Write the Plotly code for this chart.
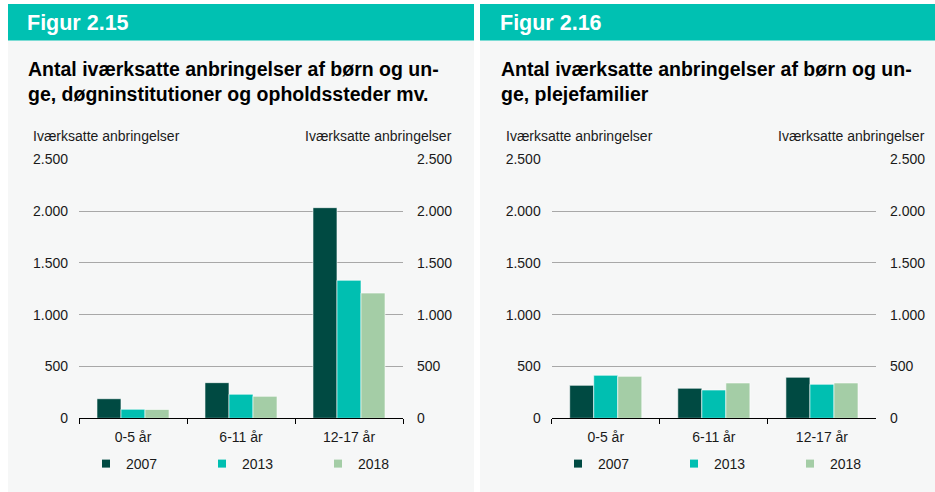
import plotly.graph_objects as go

# Data
categories = ["0-5 år", "6-11 år", "12-17 år"]
years = ["2007", "2013", "2018"]
dogn_values = {
    "2007": [189, 344, 2033],
    "2013": [87, 232, 1332],
    "2018": [85, 212, 1209],
}
pleje_values = {
    "2007": [318, 290, 396],
    "2013": [415, 273, 328],
    "2018": [405, 341, 341],
}
tick_vals = [0, 500, 1000, 1500, 2000, 2500]
tick_text = ["0", "500", "1.000", "1.500", "2.000", "2.500"]

fig_labels = ["Figur 2.15", "Figur 2.16"]
titles = [
    ["Antal iværksatte anbringelser af børn og un-",
     "ge, døgninstitutioner og opholdssteder mv."],
    ["Antal iværksatte anbringelser af børn og un-",
     "ge, plejefamilier"],
]
axis_title = "Iværksatte anbringelser"

colors = {"2007": "#004A42", "2013": "#00BFB1", "2018": "#A4CDA6"}
TEAL = "#00C1B2"
PANEL_BG = "#F6F7F7"
FONT = "Liberation Sans, Arial, sans-serif"
TXT = "#1a1a1a"

W, H = 935, 492


def px_x(x):
    return x / W


def px_y(y):
    return 1 - y / H


fig = go.Figure()

# bars
for panel, values in enumerate([dogn_values, pleje_values]):
    xa = "x" if panel == 0 else "x2"
    ya = "y" if panel == 0 else "y2"
    for yr in years:
        fig.add_trace(go.Bar(
            x=categories, y=values[yr], name=yr,
            marker=dict(color=colors[yr], line=dict(color="white", width=0.6)),
            xaxis=xa, yaxis=ya, showlegend=False,
        ))
        # legend entry with a small square symbol
        fig.add_trace(go.Scatter(
            x=[None], y=[None], mode="markers", name=yr,
            marker=dict(symbol="square", size=8, color=colors[yr]),
            xaxis=xa, yaxis=ya, legend="legend" if panel == 0 else "legend2",
        ))

# empty traces so the right-hand y axes get drawn
fig.add_trace(go.Scatter(x=[None], y=[None], xaxis="x", yaxis="y3", showlegend=False))
fig.add_trace(go.Scatter(x=[None], y=[None], xaxis="x2", yaxis="y4", showlegend=False))

yax_common = dict(
    range=[0, 2500], tickvals=tick_vals, ticktext=tick_text,
    showgrid=True, gridcolor="#A8A8A8", gridwidth=1, zeroline=False,
    ticks="", tickfont=dict(size=14, color=TXT, family=FONT),
    layer="below traces", fixedrange=True,
)
xax_common = dict(
    showline=True, linecolor="black", linewidth=1,
    ticks="outside", tickson="boundaries", ticklen=5, tickcolor="black",
    ticklabelstandoff=6,
    tickfont=dict(size=14, color=TXT, family=FONT),
    showgrid=False, fixedrange=True,
)

legend_common = dict(
    orientation="h", xanchor="left", yanchor="middle",
    entrywidth=71, entrywidthmode="pixels", itemwidth=30,
    font=dict(size=14, family=FONT, color=TXT), bgcolor="rgba(0,0,0,0)",
)

y_dom = [px_y(418.3), px_y(159.3)]
fig.update_layout(
    width=W, height=H,
    margin=dict(l=0, r=0, t=0, b=0, autoexpand=False),
    paper_bgcolor=PANEL_BG, plot_bgcolor="rgba(0,0,0,0)",
    font=dict(family=FONT, color=TXT),
    barmode="group", bargap=0.333, bargroupgap=0,
    xaxis=dict(domain=[px_x(79), px_x(403)], anchor="y", **xax_common),
    yaxis=dict(domain=y_dom, anchor="x", side="left", ticklabelstandoff=10, **yax_common),
    yaxis3=dict(overlaying="y", anchor="x", side="right", ticklabelstandoff=13, **yax_common),
    xaxis2=dict(domain=[px_x(551.7), px_x(876)], anchor="y2", **xax_common),
    yaxis2=dict(domain=y_dom, anchor="x2", side="left", ticklabelstandoff=10, **yax_common),
    yaxis4=dict(overlaying="y2", anchor="x2", side="right", ticklabelstandoff=13, **yax_common),
    legend=dict(x=px_x(86), y=px_y(464), **legend_common),
    legend2=dict(x=px_x(558), y=px_y(464), **legend_common),
)

# white page strips around the panels and teal header bars
panels = [(8, 474), (480, 935)]
shapes = [
    dict(type="rect", xref="paper", yref="paper", layer="below",
         x0=0, x1=px_x(8), y0=0, y1=1, fillcolor="white", line=dict(width=0)),
    dict(type="rect", xref="paper", yref="paper", layer="below",
         x0=px_x(474), x1=px_x(480), y0=0, y1=1, fillcolor="white", line=dict(width=0)),
    dict(type="rect", xref="paper", yref="paper", layer="below",
         x0=0, x1=1, y0=px_y(4), y1=1, fillcolor="white", line=dict(width=0)),
]
for x0, x1 in panels:
    shapes.append(dict(type="rect", xref="paper", yref="paper", layer="below",
                       x0=px_x(x0), x1=px_x(x1), y0=px_y(40.5), y1=px_y(4),
                       fillcolor=TEAL, line=dict(width=0)))
fig.update_layout(shapes=shapes)

# headers, titles, axis titles
text_x = [25, 498]
for i in range(2):
    fig.add_annotation(text="<b>" + fig_labels[i] + "</b>", xref="paper", yref="paper",
                       x=px_x(text_x[i]), y=px_y(23), xanchor="left", yanchor="middle",
                       showarrow=False, font=dict(size=21.5, color="white", family=FONT))
    for j, line in enumerate(titles[i]):
        fig.add_annotation(text="<b>" + line + "</b>", xref="paper", yref="paper",
                           x=px_x(text_x[i] + 1), y=px_y(69.3 + 25 * j),
                           xanchor="left", yanchor="middle",
                           showarrow=False, font=dict(size=19.5, color="black", family=FONT))
plot_edges = [(79, 403), (551.7, 876)]
for l, r in plot_edges:
    fig.add_annotation(text=axis_title, xref="paper", yref="paper",
                       x=px_x(l - 48), y=px_y(136), xanchor="left", yanchor="middle",
                       showarrow=False, font=dict(size=14, color=TXT, family=FONT))
    fig.add_annotation(text=axis_title, xref="paper", yref="paper",
                       x=px_x(r + 51), y=px_y(136), xanchor="right", yanchor="middle",
                       showarrow=False, font=dict(size=14, color=TXT, family=FONT))

# drop the default page margin so the figure sits at the window's top-left corner
fig.write_html("out.html", config={"displayModeBar": False},
               post_script="document.body.style.margin = '0px';")
